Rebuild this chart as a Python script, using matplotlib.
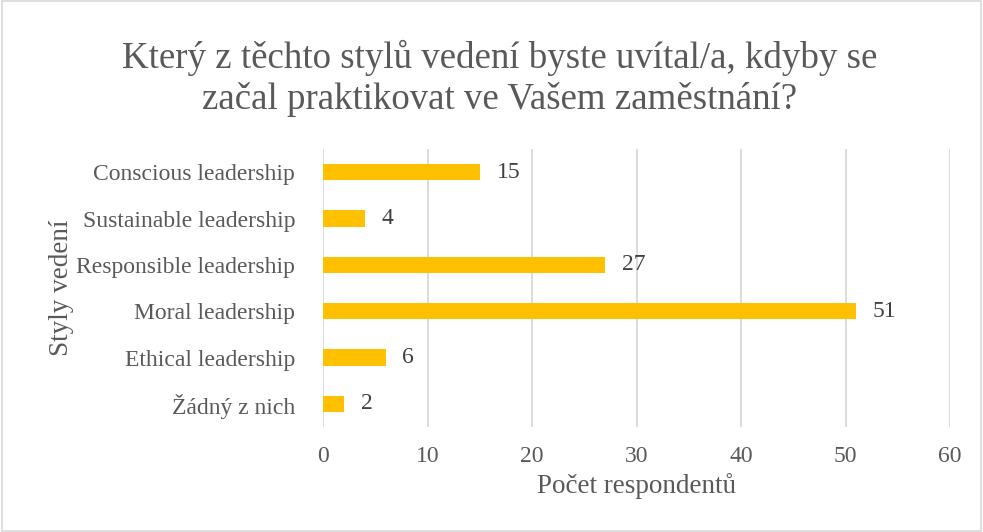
import matplotlib.pyplot as plt
from matplotlib.patches import Rectangle

categories = [
    "Conscious leadership",
    "Sustainable leadership",
    "Responsible leadership",
    "Moral leadership",
    "Ethical leadership",
    "Žádný z nich",
]
counts = [15, 4, 27, 51, 6, 2]
x_ticks = [0, 10, 20, 30, 40, 50, 60]

title = "Který z těchto stylů vedení byste uvítal/a, kdyby se\nzačal praktikovat ve Vašem zaměstnání?"
x_label = "Počet respondentů"
y_label = "Styly vedení"

text_color = "#595959"
bar_color = "#FFC000"
grid_color = "#D9D9D9"

plt.rcParams["font.family"] = ["Liberation Serif", "DejaVu Serif"]

fig = plt.figure(figsize=(9.83, 5.32), dpi=100)
ax = fig.add_axes([323 / 983, 1 - 427 / 532, (950 - 323) / 983, (427 - 149) / 532])

y = list(range(len(categories)))
ax.barh(y, counts, height=0.35, color=bar_color, zorder=3)
ax.set_ylim(len(categories) - 0.5, -0.5)
ax.set_xlim(0, 60)
ax.set_xticks(x_ticks)
ax.set_yticks(y, categories)

for yi, v in zip(y, counts):
    ax.text(v + 1.6, yi, str(v), va="center", ha="left", fontsize=17, color="#404040")

ax.grid(True, axis="x", color=grid_color, linewidth=1.3, zorder=0)
for s in ax.spines.values():
    s.set_visible(False)
ax.tick_params(axis="both", length=0, labelsize=17, colors=text_color)
ax.tick_params(axis="x", pad=14)
ax.tick_params(axis="y", pad=20)

ax.set_xlabel(x_label, fontsize=19.5, color=text_color, labelpad=4)
ax.set_ylabel(y_label, fontsize=19.5, color=text_color, labelpad=2)

fig.text(500 / 983, 1 - 78 / 532, title, ha="center", va="center",
         fontsize=26.6, color=text_color, linespacing=1.22)

fig.patches.append(Rectangle((0.002, 0.002), 0.996, 0.996, transform=fig.transFigure,
                             fill=False, edgecolor="#D9D9D9", linewidth=1.2))

fig.savefig("out.png", dpi=100)
